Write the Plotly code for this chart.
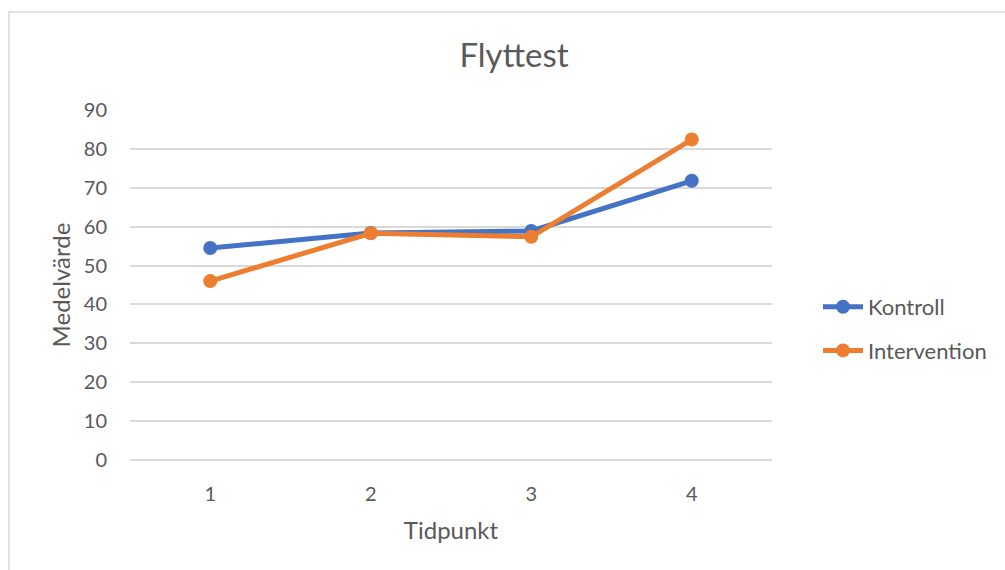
import plotly.graph_objects as go

# Mean values per measurement point
tidpunkt = ["1", "2", "3", "4"]
kontroll = [54.5, 58.4, 58.9, 71.8]
intervention = [46.0, 58.3, 57.4, 82.4]

W, H = 1005, 570
L, R, T, B = 130, 233, 110, 110
plot_w = W - L - R
plot_h = H - T - B

text_col = "#595959"
grid_col = "#D9D9D9"
font = "Lato"

fig = go.Figure()
fig.add_trace(go.Scatter(
    x=tidpunkt, y=kontroll, name="Kontroll", mode="lines+markers",
    line=dict(color="#4472C4", width=5), marker=dict(size=14, color="#4472C4"),
    legendgroup="k",
))
fig.add_trace(go.Scatter(
    x=tidpunkt, y=intervention, name="Intervention", mode="lines+markers",
    line=dict(color="#ED7D31", width=5), marker=dict(size=14, color="#ED7D31"),
    legendgroup="i",
))

# Chart frame
def px_x(v):
    return (v - L) / plot_w

def px_y(v):
    return (H - B - v) / plot_h

fig.add_shape(type="rect", xref="paper", yref="paper",
              x0=px_x(9), x1=px_x(W + 20), y0=px_y(12), y1=px_y(H + 20),
              line=dict(color=grid_col, width=1.5), fillcolor="rgba(0,0,0,0)",
              layer="below")

fig.update_layout(
    width=W, height=H,
    margin=dict(l=L, r=R, t=T, b=B),
    paper_bgcolor="white", plot_bgcolor="white",
    font=dict(family=font, color=text_col, size=20),
    title=dict(text="Flyttest", x=(514) / W, xanchor="center",
               y=1 - 55 / H, yanchor="middle",
               font=dict(size=33, color=text_col, family=font)),
    xaxis=dict(
        type="category", range=[-0.5, 3.5],
        showgrid=False, showline=False, zeroline=False,
        ticks="", ticklabelstandoff=20, tickfont=dict(size=20, color=text_col),
        title=dict(text="Tidpunkt", font=dict(size=24, color=text_col), standoff=18),
    ),
    yaxis=dict(
        range=[0, 90], dtick=10, tick0=0, showgrid=True, gridcolor=grid_col,
        gridwidth=1.5, zeroline=True, zerolinecolor=grid_col, zerolinewidth=1.5,
        showline=False, ticks="", ticklabelstandoff=22,
        tickfont=dict(size=20, color=text_col),
        title=dict(text="Medelvärde", font=dict(size=24, color=text_col), standoff=6),
    ),
    legend=dict(
        x=px_x(818), xanchor="left", y=px_y(329), yanchor="middle",
        font=dict(size=22, color=text_col), tracegroupgap=12,
        bgcolor="rgba(0,0,0,0)", itemwidth=40,
    ),
    showlegend=True,
)

fig.write_html("out.html")
